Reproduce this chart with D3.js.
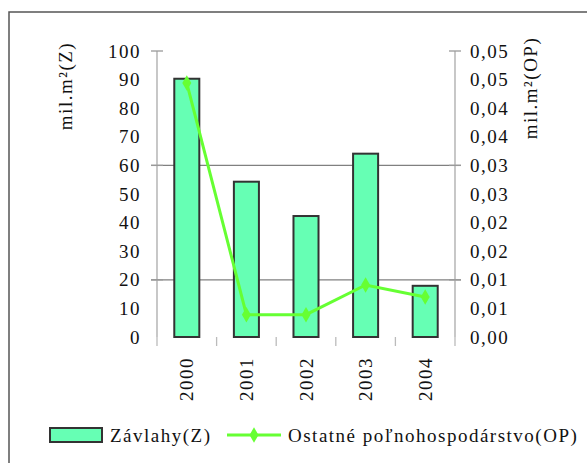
<!DOCTYPE html>
<html>
<head>
<meta charset="utf-8">
<script src="https://cdn.jsdelivr.net/npm/d3@7"></script>
<style>
  body { margin: 0; background: #fff; }
  svg text { font-family: "Liberation Serif", "Times New Roman", serif; fill: #111; }
</style>
</head>
<body>
<svg id="chart" width="587" height="463"></svg>
<script>
// data
const years = ['2000', '2001', '2002', '2003', '2004'];
const zavlahy = [90.3, 54.3, 42.3, 64.1, 17.9];
const ostatne = [0.0444, 0.0039, 0.0039, 0.0091, 0.0070];

const leftTicks = [0, 10, 20, 30, 40, 50, 60, 70, 80, 90, 100];
const rightTicks = [0, 0.005, 0.01, 0.015, 0.02, 0.025, 0.03, 0.035, 0.04, 0.045, 0.05];
const rightTickLabels = ['0,00', '0,01', '0,01', '0,02', '0,02', '0,03', '0,03', '0,04', '0,04', '0,05', '0,05'];
const gridValues = [20, 60, 100];

const svg = d3.select('#chart');

const plotL = 157, plotR = 455, plotT = 51, plotB = 337;
const barColor = '#66ffb4';
const lineColor = '#66ff33';
const fontSize = 19;
const spacing = '1.5px';

// outer frame (cut off at right/bottom like the picture)
svg.append('rect')
  .attr('x', 9).attr('y', 12)
  .attr('width', 620).attr('height', 480)
  .attr('fill', 'none')
  .attr('stroke', '#555')
  .attr('stroke-width', 1.5);

const x = d3.scaleBand().domain(years).range([plotL, plotR]).padding(0);
const yL = d3.scaleLinear().domain([0, 100]).range([plotB, plotT]);
const yR = d3.scaleLinear().domain([0, 0.05]).range([plotB, plotT]);

// gridlines
svg.append('g')
  .selectAll('line')
  .data(gridValues.filter(v => v < 100))
  .join('line')
  .attr('x1', plotL - 6).attr('x2', plotR + 6)
  .attr('y1', d => yL(d)).attr('y2', d => yL(d))
  .attr('stroke', '#808080')
  .attr('stroke-width', 1.3);

// left axis
const gLeft = svg.append('g').attr('transform', `translate(${plotL},0)`);
gLeft.append('line')
  .attr('y1', plotT).attr('y2', plotB)
  .attr('stroke', '#aaa').attr('stroke-width', 1.3);
gLeft.selectAll('.maj')
  .data(gridValues)
  .join('line')
  .attr('x1', -6).attr('x2', 6)
  .attr('y1', d => yL(d)).attr('y2', d => yL(d))
  .attr('stroke', '#999').attr('stroke-width', 1.3);
gLeft.selectAll('text')
  .data(leftTicks)
  .join('text')
  .attr('x', -16)
  .attr('y', d => yL(d))
  .attr('dy', '0.35em')
  .attr('text-anchor', 'end')
  .style('font-size', fontSize + 'px')
  .style('letter-spacing', spacing)
  .text(d => d);

// right axis
const gRight = svg.append('g').attr('transform', `translate(${plotR},0)`);
gRight.append('line')
  .attr('y1', plotT).attr('y2', plotB)
  .attr('stroke', '#aaa').attr('stroke-width', 1.3);
gRight.selectAll('.maj')
  .data([0.01, 0.03, 0.05])
  .join('line')
  .attr('x1', -6).attr('x2', 6)
  .attr('y1', d => yR(d)).attr('y2', d => yR(d))
  .attr('stroke', '#999').attr('stroke-width', 1.3);
gRight.selectAll('text')
  .data(rightTicks)
  .join('text')
  .attr('x', 15)
  .attr('y', d => yR(d))
  .attr('dy', '0.35em')
  .style('font-size', fontSize + 'px')
  .style('letter-spacing', spacing)
  .text((d, i) => rightTickLabels[i]);

// category ticks along the bottom
svg.append('g')
  .selectAll('line')
  .data(years.map(d => x(d)).concat([plotR]))
  .join('line')
  .attr('x1', d => d).attr('x2', d => d)
  .attr('y1', plotB).attr('y2', plotB + 9)
  .attr('stroke', '#bbb').attr('stroke-width', 1.3);

// year labels
svg.append('g')
  .selectAll('text')
  .data(years)
  .join('text')
  .attr('transform', d => `translate(${x(d) + x.bandwidth() / 2},357) rotate(-90)`)
  .attr('dy', '0.35em')
  .attr('text-anchor', 'end')
  .style('font-size', fontSize + 'px')
  .style('letter-spacing', spacing)
  .text(d => d);

// bars
const barW = x.bandwidth() * 0.42;
svg.append('g')
  .selectAll('rect')
  .data(years)
  .join('rect')
  .attr('x', d => x(d) + (x.bandwidth() - barW) / 2)
  .attr('y', (d, i) => yL(zavlahy[i]))
  .attr('width', barW)
  .attr('height', (d, i) => plotB - yL(zavlahy[i]))
  .attr('fill', barColor)
  .attr('stroke', '#333')
  .attr('stroke-width', 2);

// line series on the right axis
const line = d3.line()
  .x((d, i) => x(years[i]) + x.bandwidth() / 2)
  .y(d => yR(d));

svg.append('path')
  .datum(ostatne)
  .attr('d', line)
  .attr('fill', 'none')
  .attr('stroke', lineColor)
  .attr('stroke-width', 3);

const diamond = d3.symbol().type(d3.symbolDiamond).size(70);
svg.append('g')
  .selectAll('path')
  .data(ostatne)
  .join('path')
  .attr('transform', (d, i) => `translate(${x(years[i]) + x.bandwidth() / 2},${yR(d)})`)
  .attr('d', diamond)
  .attr('fill', lineColor);

// axis titles
svg.append('text')
  .attr('transform', 'translate(65,86) rotate(-90)')
  .attr('text-anchor', 'middle')
  .attr('dy', '0.35em')
  .style('font-size', fontSize + 'px')
  .style('letter-spacing', spacing)
  .text('mil.m²(Z)');

svg.append('text')
  .attr('transform', 'translate(530,88) rotate(-90)')
  .attr('text-anchor', 'middle')
  .attr('dy', '0.35em')
  .style('font-size', fontSize + 'px')
  .style('letter-spacing', spacing)
  .text('mil.m²(OP)');

// legend
const lg = svg.append('g');
lg.append('rect')
  .attr('x', 50).attr('y', 428)
  .attr('width', 52).attr('height', 14)
  .attr('fill', barColor)
  .attr('stroke', '#333').attr('stroke-width', 2);
lg.append('text')
  .attr('x', 110).attr('y', 435)
  .attr('dy', '0.35em')
  .style('font-size', fontSize + 'px')
  .style('letter-spacing', spacing)
  .text('Závlahy(Z)');
lg.append('line')
  .attr('x1', 227).attr('x2', 281)
  .attr('y1', 435).attr('y2', 435)
  .attr('stroke', lineColor).attr('stroke-width', 3);
lg.append('path')
  .attr('transform', 'translate(254,435)')
  .attr('d', diamond)
  .attr('fill', lineColor);
lg.append('text')
  .attr('x', 288).attr('y', 435)
  .attr('dy', '0.35em')
  .style('font-size', fontSize + 'px')
  .style('letter-spacing', spacing)
  .text('Ostatné poľnohospodárstvo(OP)');
</script>
</body>
</html>
